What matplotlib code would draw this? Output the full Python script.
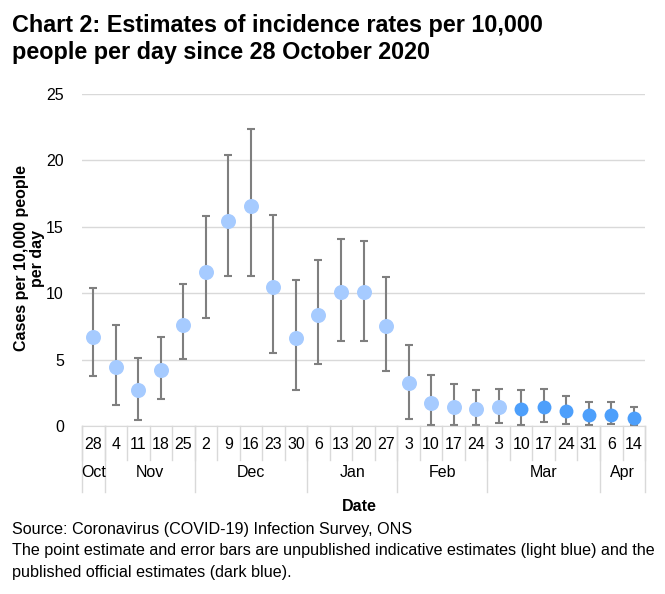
import numpy as np
import matplotlib.pyplot as plt
from matplotlib.transforms import blended_transform_factory

plt.rcParams['font.family'] = ['Liberation Sans', 'DejaVu Sans']

days = ['28', '4', '11', '18', '25', '2', '9', '16', '23', '30', '6', '13', '20', '27',
        '3', '10', '17', '24', '3', '10', '17', '24', '31', '6', '14']
months = ['Oct', 'Nov', 'Dec', 'Jan', 'Feb', 'Mar', 'Apr']
month_counts = [1, 4, 5, 4, 4, 5, 2]

estimate = [6.71, 4.41, 2.70, 4.21, 7.60, 11.58, 15.41, 16.54, 10.43, 6.62, 8.37, 10.10, 10.10,
            7.52, 3.21, 1.70, 1.45, 1.26, 1.40, 1.30, 1.45, 1.10, 0.80, 0.85, 0.60]
upper = [10.40, 7.57, 5.11, 6.67, 10.68, 15.79, 20.38, 22.35, 15.86, 10.98, 12.48, 14.06, 13.93,
         11.20, 6.07, 3.86, 3.16, 2.71, 2.76, 2.71, 2.76, 2.26, 1.83, 1.80, 1.40]
lower = [3.78, 1.60, 0.45, 2.00, 5.06, 8.12, 11.33, 11.30, 5.51, 2.71, 4.66, 6.37, 6.37,
         4.11, 0.50, 0.05, 0.05, 0.05, 0.20, 0.10, 0.30, 0.15, 0.05, 0.15, 0.10]
published = [False] * 19 + [True] * 6

light = '#a6cbff'
dark = '#4d9ffb'
grid = '#d9d9d9'

fig = plt.figure(figsize=(6.65, 5.94), dpi=100)
ax = fig.add_axes([0.1233, 0.2828, 0.8467, 0.559])

x = np.arange(len(days))
est = np.array(estimate)
yerr = [est - np.array(lower), np.array(upper) - est]
ax.errorbar(x, est, yerr=yerr, fmt='none', ecolor='#7f7f7f', elinewidth=1.5,
            capsize=3, capthick=1.5, zorder=2)
for i in range(len(x)):
    c = dark if published[i] else light
    ms = 10 if published[i] else 10.8
    ax.plot(x[i], est[i], 'o', color=c, markersize=ms, markeredgewidth=0, zorder=3)

ax.set_xlim(-0.5, len(days) - 0.5)
ax.set_ylim(0, 25)
ax.set_yticks([0, 5, 10, 15, 20, 25])
ax.yaxis.grid(True, color=grid, linewidth=1)
ax.set_axisbelow(True)
for s in ['top', 'right', 'left']:
    ax.spines[s].set_visible(False)
ax.spines['bottom'].set_color(grid)
ax.tick_params(axis='y', length=0, labelsize=11.5, pad=13)
ax.tick_params(axis='x', length=0, labelsize=11.5, pad=8)
ax.set_xticks(x)
ax.set_xticklabels(days)

# two level category axis
trans = blended_transform_factory(ax.transData, ax.transAxes)
bounds = np.cumsum([0] + month_counts)
for b in range(len(days) + 1):
    ax.plot([b - 0.5, b - 0.5], [0, -0.102], color=grid, lw=1, transform=trans, clip_on=False)
for b in bounds:
    ax.plot([b - 0.5, b - 0.5], [0, -0.20], color=grid, lw=1, transform=trans, clip_on=False)
for m, a, b in zip(months, bounds[:-1], bounds[1:]):
    ax.text((a + b) / 2 - 0.5, -0.14, m, transform=trans, ha='center', va='center', fontsize=11.5)

fig.text(0.044, 0.565, 'Cases per 10,000 people\nper day', rotation=90, ha='center', va='center',
         fontsize=11.5, fontweight='bold', linespacing=1.1)
fig.text(0.54, 0.148, 'Date', ha='center', va='center', fontsize=11.5, fontweight='bold')

fig.text(0.018, 0.976, 'Chart 2: Estimates of incidence rates per 10,000\npeople per day since 28 October 2020',
         ha='left', va='top', fontsize=16.8, fontweight='bold', linespacing=1.22)

fig.text(0.018, 0.122, 'Source: Coronavirus (COVID-19) Infection Survey, ONS\n'
         'The point estimate and error bars are unpublished indicative estimates (light blue) and the\n'
         'published official estimates (dark blue).',
         ha='left', va='top', fontsize=11.6, linespacing=1.55)

fig.savefig('out.png', dpi=100)
